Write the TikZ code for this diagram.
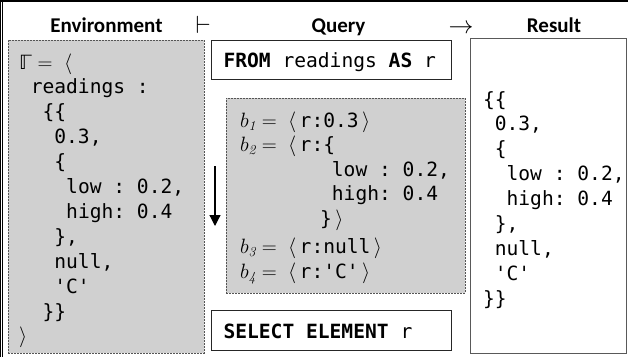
\documentclass[tikz,border=0pt]{standalone}
\usepackage{fontspec}
\setmonofont{DejaVu Sans Mono}
\newfontfamily\headfont{Carlito}
\newfontfamily\dvsfont{DejaVu Sans}
\usetikzlibrary{arrows.meta}
\definecolor{boxgray}{RGB}{208,208,208}
\definecolor{edgegray}{RGB}{85,85,85}
\begin{document}
\begin{tikzpicture}[x=1pt,y=-1pt,
  code/.style={anchor=base west, inner sep=0pt, outer sep=0pt, font=\fontsize{19.6}{24}\selectfont\ttfamily},
  head/.style={anchor=base, inner sep=0pt, font=\fontsize{21}{25}\selectfont\headfont\bfseries},
  sym/.style={anchor=base west, inner sep=0pt},
  graybox/.style={draw=edgegray, fill=boxgray, dash pattern=on 2pt off 1pt, line width=0.8pt, anchor=north west, inner sep=0pt},
  plainbox/.style={draw=black!85, line width=0.9pt, anchor=north west, inner sep=0pt},
  resbox/.style={draw=black!65, line width=0.9pt, anchor=north west, inner sep=0pt},
]
\useasboundingbox (0,0) rectangle (628,357);
% outer frame (cropped)
\draw[line width=1.4pt] (0,1) -- (628,1);
\draw[line width=0.9pt] (0.6,0) -- (0.6,357);
\draw[line width=0.9pt] (2.8,0) -- (2.8,357);

% headings
\node[head] (henv) at (106.5,32) {Environment};
\node[sym, font=\fontsize{28.8}{30}\selectfont] (turn) at (195.4,33) {$\vdash$};
\node[head] (hquery) at (338.5,32) {Query};
\node[sym, font=\fontsize{29}{30}\selectfont] (harrow) at (448.5,33) {$\rightarrow$};
\node[head] (hres) at (554,32) {Result};

% boxes
\node[graybox, minimum width=196pt, minimum height=313pt] (env) at (7.5,40) {};
\node[plainbox, minimum width=240pt, minimum height=39pt] (from) at (210.5,40) {};
\node[graybox, minimum width=239pt, minimum height=195pt] (bind) at (226,98) {};
\node[plainbox, minimum width=240pt, minimum height=40pt] (select) at (210.5,310) {};
\node[resbox, minimum width=156pt, minimum height=315pt] (res) at (470,38) {};

% environment text
\node[code] (e0) at (19,69) {{\dvsfont ℾ}$\mathord{}=\;\langle$};
\node[code] (e1) at (30.8,93.9) {readings :};
\node[code] (e2) at (42.6,118.8) {\{\{};
\node[code] (e3) at (54.4,143.7) {0.3,};
\node[code] (e4) at (54.4,168.6) {\{};
\node[code] (e5) at (66.2,193.5) {low : 0.2,};
\node[code] (e6) at (66.2,218.4) {high: 0.4};
\node[code] (e7) at (54.4,243.3) {\},};
\node[code] (e8) at (54.4,268.2) {null,};
\node[code] (e9) at (54.4,293.1) {'C'};
\node[code] (e10) at (42.6,318) {\}\}};
\node[code] (e11) at (19,342.9) {$\rangle$};

% query text
\node[code] (qfrom) at (223.5,67) {\textbf{FROM} readings \textbf{AS} r};
\node[code] (b1) at (240,127) {$b_{\mathit{1}}\mathord{}=\;\langle\,$r:0.3$\,\rangle$};
\node[code] (b2) at (240,151.5) {$b_{\mathit{2}}\mathord{}=\;\langle\,$r:\{};
\node[code] (b2a) at (331.9,176) {low : 0.2,};
\node[code] (b2b) at (331.9,200.5) {high: 0.4};
\node[code] (b2c) at (320.1,225) {\}$\,\rangle$};
\node[code] (b3) at (240,253) {$b_{\mathit{3}}\mathord{}=\;\langle\,$r:null$\,\rangle$};
\node[code] (b4) at (240,278) {$b_{\mathit{4}}\mathord{}=\;\langle\,$r:'C'$\,\rangle$};
\node[code] (qsel) at (223.5,338) {\textbf{SELECT ELEMENT} r};

% result text
\node[code] (r0) at (483,106) {\{\{};
\node[code] (r1) at (494.8,130.9) {0.3,};
\node[code] (r2) at (494.8,155.8) {\{};
\node[code] (r3) at (506.6,180.7) {low : 0.2,};
\node[code] (r4) at (506.6,205.6) {high: 0.4};
\node[code] (r5) at (494.8,230.5) {\},};
\node[code] (r6) at (494.8,255.4) {null,};
\node[code] (r7) at (494.8,280.3) {'C'};
\node[code] (r8) at (483,305.2) {\}\}};

% iteration arrow
\coordinate (arrS) at (215,166);
\coordinate (arrE) at (215,226);
\draw[line width=1.2pt, -{Triangle[width=11pt,length=11pt]}] (arrS) -- (arrE);
\end{tikzpicture}
\end{document}
